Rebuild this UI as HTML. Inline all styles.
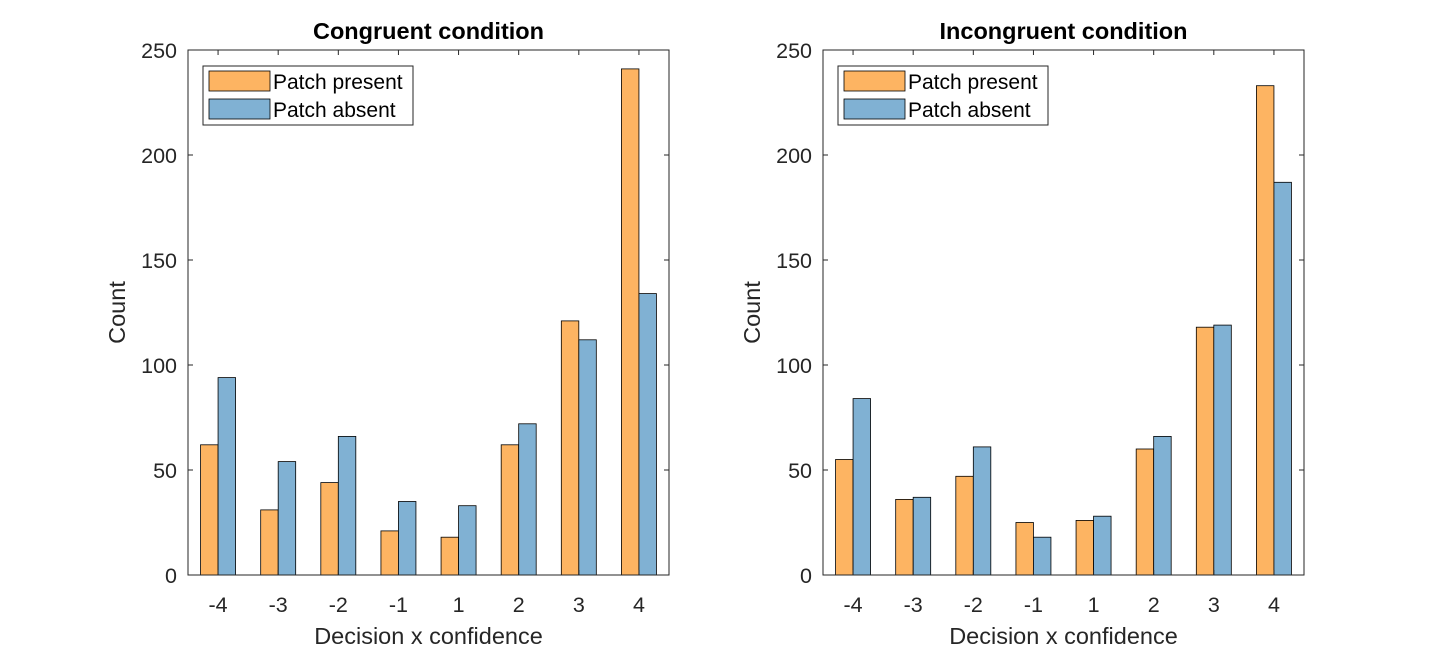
<!DOCTYPE html>
<html><head><meta charset="utf-8"><style>
body{margin:0;background:#fff;}
svg{display:block;font-family:"Liberation Sans",Arial,sans-serif;}
</style></head><body>
<svg id="chart" width="1442" height="651"></svg>
<script>
const categories=["-4","-3","-2","-1","1","2","3","4"];
const congruentPresent=[62,31,44,21,18,62,121,241];
const congruentAbsent=[94,54,66,35,33,72,112,134];
const incongruentPresent=[55,36,47,25,26,60,118,233];
const incongruentAbsent=[84,37,61,18,28,66,119,187];
const yTicks=[0,50,100,150,200,250];
const seriesNames=["Patch present","Patch absent"];
const colors=["#fdb462","#80b1d3"];
const NS="http://www.w3.org/2000/svg";
const svg=document.getElementById('chart');
function mk(tag,attrs,parent){const e=document.createElementNS(NS,tag);for(const k in attrs)e.setAttribute(k,attrs[k]);(parent||svg).appendChild(e);return e;}
function panel(x0,title,pres,abs,key){
  const x1=x0+481,yTop=50,yBot=575;
  const g=mk('g',{});
  
  
  const xs=i=>x0+(i+0.5)*(x1-x0)/categories.length;
  const ys=v=>yBot-v/250*(yBot-yTop);
  const bw=17.5;
  [pres,abs].forEach((arr,s)=>{
    arr.forEach((v,i)=>{
      const r=mk('rect',{x:xs(i)-bw+s*bw,y:ys(v),width:bw,height:yBot-ys(v),fill:colors[s],stroke:"#000","stroke-width":0.8},g);
      
      
    });
  });
  const ax=mk('rect',{x:x0,y:yTop,width:x1-x0,height:yBot-yTop,fill:"none",stroke:"#262626","stroke-width":1},g);
  
  
  yTicks.forEach(t=>{
    const y=ys(t);
    mk('line',{x1:x0,x2:x0+5,y1:y,y2:y,stroke:"#262626"},g);
    mk('line',{x1:x1,x2:x1-5,y1:y,y2:y,stroke:"#262626"},g);
    const tx=mk('text',{x:x0-11,y:y+8,"text-anchor":"end","font-size":21.5,fill:"#262626"},g);
    tx.textContent=t;
    
    
  });
  categories.forEach((c,i)=>{
    const x=xs(i);
    mk('line',{x1:x,x2:x,y1:yBot,y2:yBot-5,stroke:"#262626"},g);
    mk('line',{x1:x,x2:x,y1:yTop,y2:yTop+5,stroke:"#262626"},g);
    const tx=mk('text',{x:x,y:yBot+37,"text-anchor":"middle","font-size":21.5,fill:"#262626"},g);
    tx.textContent=c;
    
    
  });
  const tt=mk('text',{x:(x0+x1)/2,y:39,"text-anchor":"middle","font-size":23.5,"font-weight":"bold",fill:"#000"},g);
  tt.textContent=title;
  
  
  const xl=mk('text',{x:(x0+x1)/2,y:644,"text-anchor":"middle","font-size":23.5,fill:"#262626"},g);
  xl.textContent="Decision x confidence";
  
  
  const yl=mk('text',{x:0,y:0,"text-anchor":"middle","font-size":23.5,fill:"#262626",transform:`translate(${x0-63},${(yTop+yBot)/2}) rotate(-90)`},g);
  yl.textContent="Count";
  
  
  const lg=mk('g',{},g);
  
  
  mk('rect',{x:x0+15,y:66,width:210,height:59,fill:"#fff",stroke:"#262626","stroke-width":1},lg);
  seriesNames.forEach((n,s)=>{
    const sw=mk('rect',{x:x0+21,y:71+s*28,width:61,height:20,fill:colors[s],stroke:"#000","stroke-width":0.8},lg);
    
    
    const lt=mk('text',{x:x0+85,y:89+s*28,"font-size":21,fill:"#000"},lg);
    lt.textContent=n;
    
    
  });
}
panel(188,"Congruent condition",congruentPresent,congruentAbsent,"congruent");
panel(823,"Incongruent condition",incongruentPresent,incongruentAbsent,"incongruent");
</script>
</body></html>
